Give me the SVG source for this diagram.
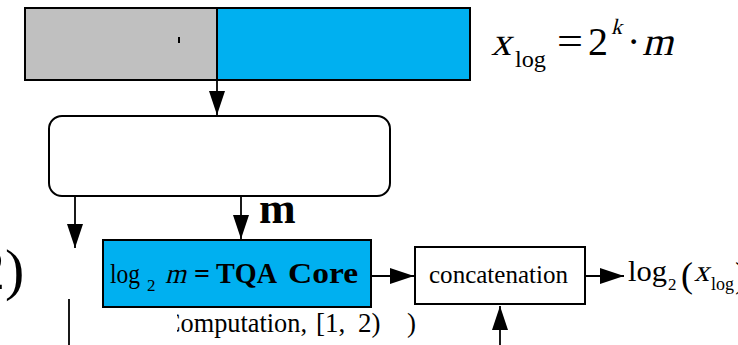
<svg xmlns="http://www.w3.org/2000/svg" width="738" height="345" viewBox="0 0 738 345">
<style>
.box{stroke:#000;stroke-width:2}
.gray{fill:#c0c0c0}
.blue{fill:#00b0f0}
.white{fill:#fff}
.con{stroke:#000;stroke-width:1.8;fill:none}
.t{font-family:'Liberation Serif','Times New Roman',serif;fill:#000}
.b{font-weight:bold}
</style>
<defs>
<marker id="ah" viewBox="0 0 24 16" refX="24" refY="8" markerWidth="24" markerHeight="16" markerUnits="userSpaceOnUse" orient="auto">
<path d="M0,0 L24,8 L0,16 Z" fill="#000"/>
</marker>
<clipPath id="clipC"><rect x="177" y="300" width="300" height="45"/></clipPath>
</defs>

<g id="input-word">
<rect class="box gray" x="25" y="8" width="192" height="72"/>
<rect class="box blue" x="217" y="8" width="253" height="72"/>
<rect x="178" y="37" width="2" height="6" fill="#000"/>
</g>

<g id="equation" font-family="Liberation Serif, serif">
<text class="t" transform="translate(491,55) skewX(-14)" font-size="40">x</text>
<text class="t" x="515" y="67" font-size="24" textLength="31" lengthAdjust="spacingAndGlyphs">log</text>
<text class="t" x="557" y="55" font-size="40" textLength="26" lengthAdjust="spacingAndGlyphs">=</text>
<text class="t" x="588" y="55" font-size="40">2</text>
<text class="t" transform="translate(611,34) skewX(-14)" font-size="22">k</text>
<text class="t" x="627" y="55" font-size="40">·</text>
<text class="t" transform="translate(642,55) skewX(-14)" font-size="40" textLength="31" lengthAdjust="spacingAndGlyphs">m</text>
</g>

<g id="split-block">
<rect class="box white" x="49" y="116" width="341" height="80" rx="13" ry="13"/>
</g>

<g id="m-label" font-family="Liberation Serif, serif">
<text class="t b" x="259" y="223" font-size="44">m</text>
</g>

<g id="tqa-core" font-family="Liberation Serif, serif">
<rect class="box blue" x="103" y="240" width="268" height="67"/>
<text class="t" x="110" y="283" font-size="28" textLength="30" lengthAdjust="spacingAndGlyphs">log</text>
<text class="t" x="147" y="291" font-size="17">2</text>
<text class="t" transform="translate(165,283) skewX(-14)" font-size="28" textLength="21" lengthAdjust="spacingAndGlyphs">m</text>
<text class="t b" x="194" y="283" font-size="28">=</text>
<text class="t b" x="216" y="283" font-size="29" textLength="61" lengthAdjust="spacingAndGlyphs">TQA</text>
<text class="t b" x="288" y="283" font-size="29" textLength="70" lengthAdjust="spacingAndGlyphs">Core</text>
</g>

<g id="concatenation" font-family="Liberation Serif, serif">
<rect class="box white" x="415" y="247" width="170" height="57"/>
<text class="t" x="429" y="283" font-size="25" textLength="139" lengthAdjust="spacingAndGlyphs">concatenation</text>
</g>

<g id="output" font-family="Liberation Serif, serif">
<text class="t" x="628" y="281" font-size="30" textLength="39" lengthAdjust="spacingAndGlyphs">log</text>
<text class="t" x="668" y="290" font-size="17">2</text>
<text class="t" x="681" y="287" font-size="36">(</text>
<text class="t" transform="translate(694,281) skewX(-14)" font-size="30">x</text>
<text class="t" x="711" y="290" font-size="18">log</text>
<text class="t" x="735" y="287" font-size="36">)</text>
</g>

<g id="left-fragment" font-family="Liberation Serif, serif">
<text class="t" x="-24" y="289" font-size="58">2)</text>
</g>

<g id="bottom-label" clip-path="url(#clipC)" font-family="Liberation Serif, serif">
<text class="t" x="163" y="332" font-size="27" textLength="144" lengthAdjust="spacingAndGlyphs">Computation,</text>
<text class="t" x="316" y="332" font-size="27">[1,</text>
<text class="t" x="358" y="332" font-size="27">2)</text>
<text class="t" x="407" y="332" font-size="27">)</text>
</g>

<g id="connectors">
<line class="con" x1="217" y1="80" x2="217" y2="115" marker-end="url(#ah)"/>
<line class="con" x1="75" y1="196" x2="75" y2="248" marker-end="url(#ah)"/>
<line class="con" x1="241" y1="196" x2="241" y2="239" marker-end="url(#ah)"/>
<line class="con" x1="371" y1="276" x2="414" y2="276" marker-end="url(#ah)"/>
<line class="con" x1="585" y1="276" x2="624" y2="276" marker-end="url(#ah)"/>
<line class="con" x1="500" y1="345" x2="500" y2="306" marker-end="url(#ah)"/>
<line class="con" x1="69" y1="299" x2="69" y2="345"/>
</g>
</svg>
